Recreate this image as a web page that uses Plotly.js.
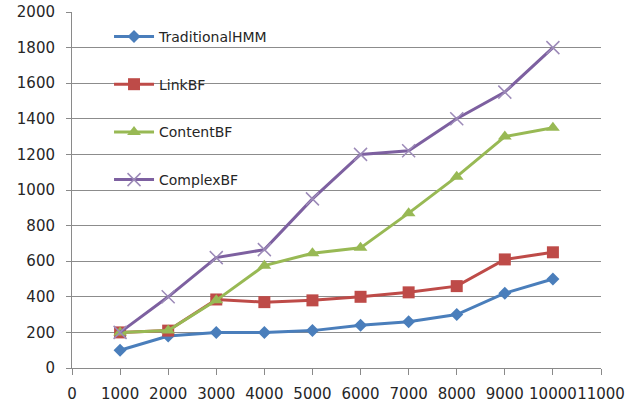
<!DOCTYPE html>
<html>
<head>
<meta charset="utf-8">
<script src="https://cdn.plot.ly/plotly-3.0.1.min.js"></script>
<style>html,body{margin:0;padding:0;background:#fff;}#chart{width:630px;height:409px;}</style>
</head>
<body>
<div id="chart"></div>
<script>
const xValues = [1000, 2000, 3000, 4000, 5000, 6000, 7000, 8000, 9000, 10000];
const traditionalHMM = [100, 180, 200, 200, 210, 240, 260, 300, 420, 500];
const linkBF = [200, 210, 385, 370, 380, 400, 425, 460, 610, 650];
const contentBF = [200, 210, 380, 575, 645, 675, 870, 1075, 1300, 1350];
const complexBF = [200, 400, 620, 665, 950, 1200, 1220, 1400, 1550, 1800];
const seriesNames = ["TraditionalHMM", "LinkBF", "ContentBF", "ComplexBF"];
const xTicks = [0, 1000, 2000, 3000, 4000, 5000, 6000, 7000, 8000, 9000, 10000, 11000];
const yTicks = [0, 200, 400, 600, 800, 1000, 1200, 1400, 1600, 1800, 2000];

const traces = [
  {x: xValues, y: traditionalHMM, name: seriesNames[0], legendgroup: "a", type: "scatter", mode: "lines+markers",
   line: {color: "#4A7EBB", width: 3}, marker: {symbol: "diamond", size: 10, color: "#4A7EBB"}},
  {x: xValues, y: linkBF, name: seriesNames[1], legendgroup: "b", type: "scatter", mode: "lines+markers",
   line: {color: "#BE4B48", width: 3}, marker: {symbol: "square", size: 12, color: "#BE4B48"}},
  {x: xValues, y: contentBF, name: seriesNames[2], legendgroup: "c", type: "scatter", mode: "lines+markers",
   line: {color: "#98B954", width: 3}, marker: {symbol: "triangle-up", size: 12, color: "#98B954"}},
  {x: xValues, y: complexBF, name: seriesNames[3], legendgroup: "d", type: "scatter", mode: "lines+markers",
   line: {color: "#7D60A0", width: 3}, marker: {symbol: "x-thin", size: 13, line: {color: "#9C8AB8", width: 1.5}}}
];

const layout = {
  width: 630, height: 409,
  margin: {l: 72, r: 29, t: 12, b: 41, pad: 0},
  paper_bgcolor: "#fff", plot_bgcolor: "#fff",
  font: {family: "DejaVu Sans, Verdana, sans-serif", size: 15, color: "#262626"},
  showlegend: true,
  legend: {x: 0.07, y: 0.975, xanchor: "left", yanchor: "top", bgcolor: "rgba(0,0,0,0)",
           font: {family: "DejaVu Sans, sans-serif", size: 14, color: "#262626"},
           tracegroupgap: 26.5, itemwidth: 40},
  xaxis: {range: [0, 11000], tickvals: xTicks, ticktext: xTicks.map(String), tickangle: 0, showgrid: false,
          zeroline: false, showline: true, linecolor: "#8a8a8a", linewidth: 1,
          ticks: "outside", ticklen: 6, tickcolor: "#8a8a8a", ticklabelstandoff: 6, fixedrange: true},
  yaxis: {range: [0, 2000], tickvals: yTicks, ticktext: yTicks.map(String), showgrid: true,
          gridcolor: "#8c8c8c", gridwidth: 1, zeroline: false, showline: true, linecolor: "#8a8a8a",
          linewidth: 1, ticks: "outside", ticklen: 5, tickcolor: "#8a8a8a", ticklabelstandoff: 8, fixedrange: true}
};

Plotly.newPlot("chart", traces, layout, {displayModeBar: false, staticPlot: true});
</script>
</body>
</html>
